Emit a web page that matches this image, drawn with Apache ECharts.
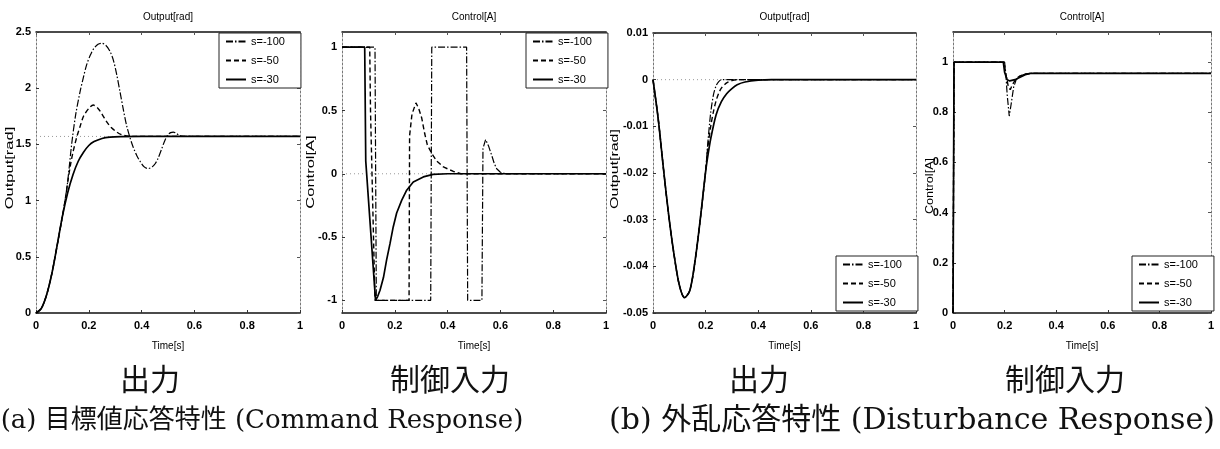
<!DOCTYPE html>
<html>
<head>
<meta charset="utf-8">
<script src="https://cdn.jsdelivr.net/npm/echarts@6/dist/echarts.min.js"></script>
<style>
  html, body { margin: 0; padding: 0; background: #fff; }
  #chart { width: 1220px; height: 449px; }
</style>
</head>
<body>
<div id="chart"></div>
<script>
// ---- (a) Command response: output [rad] ----
const cmdOutT100 = [0,0.02,0.04,0.06,0.08,0.1,0.11,0.12,0.135,0.15,0.167,0.18,0.192,0.205,0.218,0.235,0.249,0.265,0.28,0.293,0.305,0.318,0.33,0.343,0.356,0.369,0.382,0.394,0.41,0.425,0.44,0.452,0.463,0.476,0.489,0.5,0.51,0.52,0.53,0.54,0.55,0.57,1];
const cmdOutY100 = [0,0.04,0.16,0.35,0.6,0.86,1.0,1.17,1.5,1.76,1.97,2.1,2.21,2.29,2.35,2.39,2.40,2.38,2.33,2.25,2.13,1.97,1.82,1.67,1.56,1.47,1.40,1.35,1.30,1.285,1.30,1.33,1.38,1.46,1.54,1.585,1.605,1.61,1.60,1.585,1.575,1.571,1.571];
const cmdOutT50 = [0,0.02,0.04,0.06,0.08,0.1,0.11,0.12,0.13,0.14,0.155,0.167,0.18,0.2,0.217,0.235,0.25,0.268,0.285,0.306,0.325,0.344,0.38,1];
const cmdOutY50 = [0,0.04,0.16,0.35,0.6,0.86,1.0,1.16,1.31,1.43,1.57,1.66,1.75,1.82,1.85,1.82,1.77,1.70,1.65,1.61,1.585,1.575,1.571,1.571];
const cmdOutT30 = [0,0.02,0.04,0.06,0.08,0.1,0.12,0.14,0.16,0.18,0.2,0.22,0.25,0.28,0.32,0.4,1];
const cmdOutY30 = [0,0.04,0.16,0.35,0.6,0.86,1.07,1.23,1.35,1.43,1.49,1.525,1.553,1.565,1.57,1.571,1.571];
const cmdOutRef = 1.5708;

// ---- (a) Command response: control [A] ----
const cmdCtlT100 = [0,0.125,0.13,0.336,0.34,0.472,0.476,0.53,0.534,0.544,0.555,0.567,0.577,0.586,0.6,0.62,1];
const cmdCtlY100 = [1,1,-1,-1,1,1,-1,-1,0.2,0.27,0.22,0.146,0.08,0.04,0.012,0,0];
const cmdCtlT50 = [0,0.105,0.108,0.125,0.254,0.256,0.265,0.28,0.29,0.302,0.313,0.323,0.34,0.359,0.384,0.42,0.45,1];
const cmdCtlY50 = [1,1,0.5,-1,-1,0.3,0.47,0.56,0.52,0.44,0.32,0.23,0.16,0.10,0.054,0.02,0,0];
const cmdCtlT30 = [0,0.086,0.09,0.127,0.135,0.144,0.157,0.169,0.182,0.194,0.207,0.226,0.245,0.27,0.308,0.345,0.4,1];
const cmdCtlY30 = [1,1,0.1,-1,-0.97,-0.92,-0.82,-0.68,-0.55,-0.42,-0.31,-0.21,-0.13,-0.065,-0.025,-0.005,0,0];
const cmdCtlRef = 0;

// ---- (b) Disturbance response: output [rad] ----
const disOutT100 = [0,0.02,0.04,0.06,0.08,0.1,0.12,0.14,0.16,0.18,0.2,0.205,0.21,0.215,0.22,0.23,0.24,0.25,0.26,1];
const disOutY100 = [0,-0.0085,-0.0192,-0.0292,-0.0375,-0.044,-0.0467,-0.0452,-0.0388,-0.0298,-0.0197,-0.016,-0.0125,-0.0095,-0.0068,-0.0032,-0.0013,-0.0004,0,0];
const disOutT50 = [0,0.02,0.04,0.06,0.08,0.1,0.12,0.14,0.16,0.18,0.2,0.205,0.21,0.22,0.23,0.24,0.25,0.26,0.28,0.3,0.32,1];
const disOutY50 = [0,-0.0085,-0.0192,-0.0292,-0.0375,-0.044,-0.0467,-0.0452,-0.0388,-0.0298,-0.0197,-0.0165,-0.0138,-0.0098,-0.0068,-0.0045,-0.0029,-0.0018,-0.0007,-0.0002,0,0];
const disOutT30 = [0,0.02,0.04,0.06,0.08,0.1,0.12,0.14,0.16,0.18,0.2,0.21,0.22,0.24,0.26,0.28,0.3,0.32,0.35,0.4,0.45,1];
const disOutY30 = [0,-0.0085,-0.0192,-0.0292,-0.0375,-0.044,-0.0467,-0.0452,-0.0388,-0.0298,-0.0197,-0.0158,-0.0125,-0.0075,-0.0047,-0.003,-0.0019,-0.0011,-0.0005,-0.0001,0,0];
const disOutRef = 0;

// ---- (b) Disturbance response: control [A] ----
const disCtlT100 = [0,0.004,0.2,0.205,0.21,0.218,0.225,0.235,0.245,0.26,0.28,0.3,1];
const disCtlY100 = [0,1,1,0.95,0.87,0.785,0.83,0.9,0.93,0.945,0.952,0.955,0.955];
const disCtlT50 = [0,0.004,0.198,0.205,0.215,0.222,0.23,0.245,0.26,0.28,0.3,1];
const disCtlY50 = [0,1,1,0.95,0.9,0.89,0.91,0.935,0.945,0.952,0.955,0.955];
const disCtlT30 = [0,0.004,0.195,0.2,0.21,0.22,0.24,0.26,0.28,0.3,1];
const disCtlY30 = [0,1,1,0.96,0.93,0.925,0.93,0.94,0.95,0.955,0.955];

const seriesNames = ['s=-100', 's=-50', 's=-30'];
const yTicksCmdCtl = [-1, -0.5, 0, 0.5, 1];
const yTicksDisCtl = [0, 0.2, 0.4, 0.6, 0.8, 1];

const pts = (t, y) => t.map((v, i) => [v, y[i]]);

const FONT = "'Liberation Sans', Arial, sans-serif";
const lineStyles = [
  { color: '#000', width: 1.2, type: [7, 2, 1.5, 2] },
  { color: '#000', width: 1.4, type: [5, 3] },
  { color: '#000', width: 1.7, type: 'solid' }
];

// plot-area rectangles (left, top, width, height)
const panels = [
  { left: 36,  top: 32, width: 264, height: 281, title: 'Output[rad]', yName: 'Output[rad]',
    yNamePos: [10, 168], yNameStretch: 1.5,
    y: { min: 0, max: 2.5, interval: 0.5 },
    data: [pts(cmdOutT100, cmdOutY100), pts(cmdOutT50, cmdOutY50), pts(cmdOutT30, cmdOutY30)],
    ref: cmdOutRef, smooth: 0.3,
    legend: { left: 219, top: 33 } },
  { left: 342, top: 32, width: 264, height: 281, title: 'Control[A]', yName: 'Control[A]',
    yNamePos: [311, 172], yNameStretch: 1.5,
    y: { min: -1.1, max: 1.12, custom: yTicksCmdCtl },
    data: [pts(cmdCtlT100, cmdCtlY100), pts(cmdCtlT50, cmdCtlY50), pts(cmdCtlT30, cmdCtlY30)],
    ref: cmdCtlRef, smooth: false,
    legend: { left: 526, top: 33 } },
  { left: 653, top: 33, width: 263, height: 280, title: 'Output[rad]', yName: 'Output[rad]',
    yNamePos: [615, 169], yNameStretch: 1.45,
    y: { min: -0.05, max: 0.01, interval: 0.01 },
    data: [pts(disOutT100, disOutY100), pts(disOutT50, disOutY50), pts(disOutT30, disOutY30)],
    ref: disOutRef, smooth: 0.3,
    legend: { left: 836, top: 256 } },
  { left: 953, top: 32, width: 258, height: 281, title: 'Control[A]', yName: 'Control[A]',
    yNamePos: [930, 186], yNameStretch: 1.15,
    y: { min: 0, max: 1.12, custom: yTicksDisCtl },
    data: [pts(disCtlT100, disCtlY100), pts(disCtlT50, disCtlY50), pts(disCtlT30, disCtlY30)],
    ref: null, smooth: false,
    legend: { left: 1132, top: 256 } }
];

const grid = [], xAxis = [], yAxis = [], series = [], legend = [], graphic = [];

const tickLabel = { fontFamily: FONT, fontSize: 11, fontWeight: 'bold', color: '#000' };

panels.forEach((p, i) => {
  grid.push({ left: p.left, top: p.top, width: p.width, height: p.height, outerBoundsMode: 'none', containLabel: false });

  // bottom axis with labels
  xAxis.push({
    gridIndex: i, type: 'value', position: 'bottom', min: 0, max: 1, interval: 0.2,
    name: 'Time[s]', nameLocation: 'middle', nameGap: 28,
    nameTextStyle: { fontFamily: FONT, fontSize: 10, color: '#000' },
    axisLine: { show: true, onZero: false, lineStyle: { color: '#111', width: 1.5 } },
    axisTick: { show: true, inside: true, length: 3, lineStyle: { color: '#333' } },
    axisLabel: Object.assign({ margin: 7 }, tickLabel),
    splitLine: { show: false }
  });
  // top frame edge
  xAxis.push({
    gridIndex: i, type: 'value', position: 'top', min: 0, max: 1, interval: 0.2,
    axisLine: { show: true, onZero: false, lineStyle: { color: '#111', width: 1.5 } },
    axisTick: { show: true, inside: true, length: 3, lineStyle: { color: '#555' } },
    axisLabel: { show: false }, splitLine: { show: false }
  });

  const yBase = { gridIndex: i, type: 'value', min: p.y.min, max: p.y.max, splitLine: { show: false } };
  if (p.y.interval) yBase.interval = p.y.interval;
  const leftY = Object.assign({}, yBase, {
    position: 'left',
    axisLine: { show: true, onZero: false, lineStyle: { color: '#777', width: 1, type: [2, 2] } },
    axisTick: { show: true, inside: true, length: 3, lineStyle: { color: '#333' } },
    axisLabel: Object.assign({ margin: 5 }, tickLabel)
  });
  const rightY = Object.assign({}, yBase, {
    position: 'right',
    axisLine: { show: true, onZero: false, lineStyle: { color: '#777', width: 1, type: [2, 2] } },
    axisTick: { show: true, inside: true, length: 3, lineStyle: { color: '#555' } },
    axisLabel: { show: false }
  });
  if (p.y.custom) {
    leftY.axisLabel.customValues = p.y.custom;
    leftY.axisTick.customValues = p.y.custom;
    rightY.axisTick.customValues = p.y.custom;
  }
  yAxis.push(leftY, rightY);

  // target level, thin dotted
  if (p.ref !== null) {
    series.push({
      type: 'line', xAxisIndex: 2 * i, yAxisIndex: 2 * i, silent: true,
      data: [[0, p.ref], [1, p.ref]], symbol: 'none',
      lineStyle: { color: '#999', width: 1, type: [1, 3] }, z: 1
    });
  }
  p.data.forEach((d, k) => {
    series.push({
      type: 'line', name: seriesNames[k], xAxisIndex: 2 * i, yAxisIndex: 2 * i,
      data: d, symbol: 'none', showSymbol: false, smooth: p.smooth,
      lineStyle: lineStyles[k], itemStyle: { color: '#000' }, z: 2 + k
    });
  });

  legend.push({
    data: seriesNames, orient: 'vertical', left: p.legend.left, top: p.legend.top,
    itemWidth: 20, itemHeight: 10, itemGap: 8, padding: [3, 16, 3, 6],
    borderColor: '#222', borderWidth: 1, backgroundColor: '#fff',
    selectedMode: false,
    itemStyle: { opacity: 0, borderWidth: 0 },
    textStyle: { fontFamily: FONT, fontSize: 11, color: '#000' }
  });

  // panel title
  graphic.push({
    type: 'text', x: p.left + p.width / 2, y: 17,
    style: { text: p.title, font: `10px ${FONT}`, fill: '#000', align: 'center', verticalAlign: 'middle' }
  });
  // vertical axis title (drawn taller than wide)
  graphic.push({
    type: 'text', x: p.yNamePos[0], y: p.yNamePos[1], rotation: Math.PI / 2,
    scaleX: p.yNameStretch, scaleY: 1,
    style: { text: p.yName, font: `11px ${FONT}`, fill: '#000', align: 'center', verticalAlign: 'middle' }
  });
});

// sub-figure captions
const captions = [
  { text: '出力', x: 150, y: 382, size: 30 },
  { text: '制御入力', x: 450, y: 382, size: 30 },
  { text: '出力', x: 759, y: 382, size: 30 },
  { text: '制御入力', x: 1065, y: 382, size: 30 },
  { text: '(a) 目標値応答特性 (Command Response)', x: 262, y: 421, size: 26 },
  { text: '(b) 外乱応答特性 (Disturbance Response)', x: 912, y: 421, size: 30 }
];
captions.forEach(c => {
  graphic.push({
    type: 'text', x: c.x, y: c.y,
    style: { text: c.text, font: `${c.size}px 'DejaVu Serif', 'Noto Sans CJK JP', serif`, fill: '#111', align: 'center', verticalAlign: 'middle' }
  });
});

const chart = echarts.init(document.getElementById('chart'), null, { renderer: 'canvas' });
chart.setOption({
  backgroundColor: '#fff',
  animation: false,
  grid, xAxis, yAxis, series, legend, graphic
});
</script>
</body>
</html>
